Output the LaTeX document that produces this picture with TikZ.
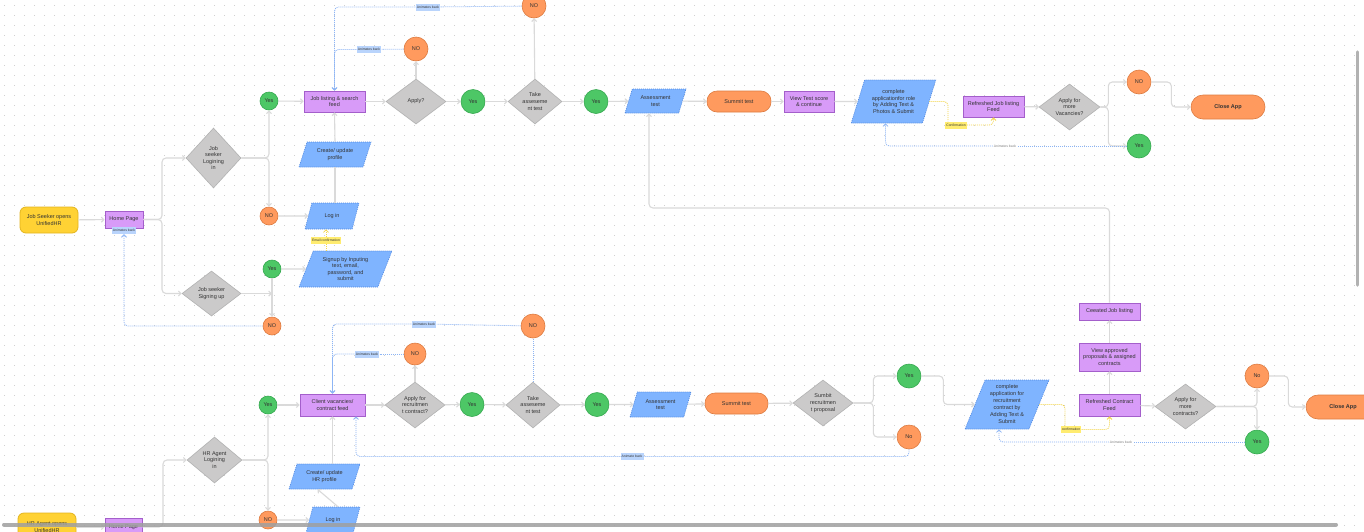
\documentclass[tikz,border=0pt]{standalone}
\usepackage{fontspec}
\setmainfont{Liberation Sans}
\usetikzlibrary{shapes.geometric,arrows.meta,calc}
\definecolor{ylw}{HTML}{FFD234}
\definecolor{ylwd}{HTML}{E3B51E}
\definecolor{pur}{HTML}{D89BF8}
\definecolor{purd}{HTML}{A45FCB}
\definecolor{gry}{HTML}{CBCACA}
\definecolor{gryd}{HTML}{B2B2B2}
\definecolor{grn}{HTML}{4DC766}
\definecolor{grnd}{HTML}{35A84F}
\definecolor{org}{HTML}{FF9A5E}
\definecolor{orgd}{HTML}{DD7B40}
\definecolor{blu}{HTML}{7FB4FF}
\definecolor{blud}{HTML}{4E86E0}
\definecolor{lbl}{HTML}{B9D4FC}
\definecolor{lny}{HTML}{DADADA}
\definecolor{dotb}{HTML}{8DB5F5}
\definecolor{doty}{HTML}{F4D64A}
\definecolor{cnf}{HTML}{FFEC70}
\definecolor{txt}{HTML}{333333}
\definecolor{gridc}{HTML}{CFCFCF}
\tikzset{
  nbase/.style={font=\fontsize{5.5}{6.6}\selectfont, text=txt, align=center, inner sep=1pt},
  startbox/.style={nbase, rounded corners=6, fill=ylw, draw=ylwd, line width=0.8, minimum width=58, minimum height=26},
  pbox/.style={nbase, fill=pur, draw=purd, line width=0.8},
  dia/.style={nbase, diamond, fill=gry, draw=gryd, line width=0.6, inner sep=0pt, aspect=1},
  yesc/.style={nbase, circle, fill=grn, draw=grnd, line width=0.6, inner sep=0pt},
  noc/.style={nbase, circle, fill=org, draw=orgd, line width=0.6, inner sep=0pt},
  para/.style={nbase, trapezium, trapezium left angle=68, trapezium right angle=112, trapezium stretches=true, fill=blu, draw=blud, dash pattern=on 1pt off 1pt, line width=0.6},
  termbox/.style={nbase, rounded corners=10, fill=org, draw=orgd, line width=0.6},
  lbtag/.style={font=\fontsize{3.4}{4}\selectfont, text=txt, fill=lbl, inner sep=1.2pt, minimum height=7},
  ytag/.style={lbtag, fill=cnf},
  wtag/.style={font=\fontsize{3.4}{4}\selectfont, text=gray, fill=white, inner sep=0.8pt},
  con/.style={draw=lny, line width=1.1, rounded corners=4, -{Straight Barb[length=2.5pt,width=5pt]}},
  dcon/.style={draw=dotb, line width=0.8, dash pattern=on 1pt off 1pt, rounded corners=4, -{Straight Barb[length=2.5pt,width=5pt]}},
  ycon/.style={draw=doty, line width=0.8, dash pattern=on 1pt off 1pt, rounded corners=4, -{Straight Barb[length=2.5pt,width=5pt]}},
}
\begin{document}
\begin{tikzpicture}[x=1pt,y=-1pt]
\useasboundingbox (0,0) rectangle (1364,531);
\fill[white] (0,0) rectangle (1364,531);
% dotted grid
\foreach \r in {5,15,...,525} {
  \draw[gridc, line width=1, dash pattern=on 1pt off 9pt] (4,\r) -- (1364,\r);
}
% ---------- Job seeker flow ----------
\node[startbox] (js) at (49,220) {Job Seeker opens\\UnifiedHR};
\node[pbox, minimum width=38, minimum height=17] (hp) at (124,219.5) {Home Page};
\node[lbtag] (hpab) at (124,230.5) {Animates back};
\node[dia, minimum width=55, minimum height=60] (ld) at (213.5,158) {Job\\seeker\\Logining\\in};
\node[dia, minimum width=59, minimum height=45] (sd) at (211.5,293.5) {Job seeker\\Signing up};
\node[yesc, minimum size=18] (ly) at (269,101) {Yes};
\node[noc, minimum size=18] (ln) at (269,216) {NO};
\node[yesc, minimum size=18] (sy) at (272,269) {Yes};
\node[noc, minimum size=18] (sn) at (272,326) {NO};
\node[para, minimum width=54, minimum height=26] (li) at (332,216) {Log in};
\node[para, minimum width=72, minimum height=25] (cu) at (335,154.5) {Create/ update\\profile};
\node[para, minimum width=93, minimum height=36] (su) at (345.5,269) {Signup by Inputing\\text, email,\\password, and\\submit};
\node[ytag] (ec) at (326,240.5) {Email confirmation};
\node[pbox, minimum width=61, minimum height=21] (jl) at (334.5,101.5) {Job listing \& search\\feed};
\node[dia, minimum width=60, minimum height=45] (ap) at (416,101.5) {Apply?};
\node[yesc, minimum size=24] (y1) at (473,101.5) {Yes};
\node[dia, minimum width=54, minimum height=45] (tk) at (535,101.5) {Take\\asseseme\\nt test};
\node[yesc, minimum size=24] (y2) at (596,101.5) {Yes};
\node[noc, minimum size=24] (n1) at (416,49) {NO};
\node[noc, minimum size=24] (n2) at (534,6) {NO};
\node[lbtag] (ab1) at (369,49.5) {Animates back};
\node[lbtag] (ab2) at (428,7) {Animates back};
\node[para, minimum width=61, minimum height=24] (at) at (655.5,101) {Assessment\\test};
\node[termbox, minimum width=64, minimum height=21] (st) at (739,101.5) {Summit test};
\node[pbox, minimum width=50, minimum height=21] (vt) at (809,101.5) {View Test score\\\& continue};
\node[para, minimum width=85, minimum height=43] (ca) at (893.5,101.5) {complete\\applicationfor role\\by Adding Text \&\\Photos \& Submit};
\node[pbox, minimum width=61, minimum height=21] (rf) at (993.5,106.5) {Refreshed Job listing\\Feed};
\node[ytag] (cf1) at (956,125) {Confirmation};
\node[dia, minimum width=61, minimum height=46] (am) at (1069.5,107) {Apply for\\more\\Vacancies?};
\node[noc, minimum size=24] (n3) at (1139,82) {NO};
\node[yesc, minimum size=24] (y3) at (1139,146) {Yes};
\node[termbox, rounded corners=12, minimum width=74, minimum height=24, font=\fontsize{5.5}{6.6}\selectfont\bfseries] (cl1) at (1228,107) {Close App};
\node[wtag] (ab3) at (1005,146) {Animates back};

\draw[con] (js) -- (hp);
\draw[con] (hp.east) -- (162,219.5) |- (ld.west);
\draw[con] (hp.east) -- (162,219.5) |- (sd.west);
\draw[con] (ld.east) -| (ly.south);
\draw[con] (ld.east) -| (ln.north);
\draw[con] (ly) -- (jl);
\draw[con] (ln) -- (li);
\draw[con,-] (li.north -| cu.south) -- (cu.south);
\draw[con] (cu.north) -- (jl.south);
\draw[con] (sy) -- (su);
\draw[con] (sy) -- (sn);
\draw[con] (sd.east) -- (sd.east -| sy);
\draw[ycon,-] (su.north -| ec) -- (ec);
\draw[ycon] (ec) -- (ec |- li.south);
\draw[dcon] (sn.west) -| (hpab.south);
\draw[con] (jl) -- (ap);
\draw[con] (ap) -- (y1);
\draw[con] (y1) -- (tk);
\draw[con] (tk) -- (y2);
\draw[con] (y2) -- (at);
\draw[con] (ap) -- (n1);
\draw[con] (tk) -- (n2);
\draw[dcon,-] (n1) -- (ab1);
\draw[dcon] (ab1.west) -| (jl.north);
\draw[dcon,-] (n2) -- (ab2);
\draw[dcon] (ab2.west) -| (jl.north);
\draw[con] (at) -- (st);
\draw[con] (st) -- (vt);
\draw[con] (vt) -- (ca);
\draw[ycon,-] (ca.east) -| ($(cf1.north)+(-8,0)$);
\draw[ycon] (cf1.east) -| (rf.south);
\draw[con] (rf) -- (am);
\draw[con] (am.east) -- ++(8,0) |- (n3.west);
\draw[con] (am.east) -- ++(8,0) |- (y3.west);
\draw[con] (n3.east) -- ++(20,0) |- (cl1.west);
\draw[dcon,-] (y3.west) -- (ab3.east);
\draw[dcon] (ab3.west) -| ($(ca.south)+(-8,0)$);

% ---------- HR agent flow ----------
\node[yesc, minimum size=18] (hy) at (268,405) {Yes};
\node[pbox, minimum width=65, minimum height=22] (cv) at (332.5,405) {Client vacancies/\\contract feed};
\node[dia, minimum width=55, minimum height=46] (hd) at (214.5,460) {HR Agent\\Logining\\in};
\node[noc, minimum size=18] (hn) at (268,520) {NO};
\node[para, minimum width=71, minimum height=25] (hc) at (324.5,476.5) {Create/ update\\HR profile};
\node[para, minimum width=54, minimum height=26] (hl) at (333,520) {Log in};
\node[startbox, minimum height=28] (hs) at (47,527) {HR Agent opens\\UnifiedHR};
\node[pbox, minimum width=37, minimum height=17] (hh) at (123.5,527) {Home Page};
\node[dia, minimum width=60, minimum height=46] (ar) at (415,405) {Apply for\\recruitmen\\t contract?};
\node[noc, minimum size=22] (bn1) at (415,354) {NO};
\node[yesc, minimum size=24] (by1) at (472,404.5) {Yes};
\node[dia, minimum width=54, minimum height=46] (bt) at (533,405) {Take\\asseseme\\nt test};
\node[noc, minimum size=24] (bn2) at (533,326) {NO};
\node[yesc, minimum size=24] (by2) at (597,404.5) {Yes};
\node[para, minimum width=61, minimum height=25] (bat) at (660.5,404.5) {Assessment\\test};
\node[termbox, minimum width=63, minimum height=21] (bst) at (736.5,403.5) {Summit test};
\node[dia, minimum width=60, minimum height=46] (sp) at (823,403) {Sumbit\\recruitmen\\t proposal};
\node[yesc, minimum size=24] (by3) at (909,376) {Yes};
\node[noc, minimum size=24] (bn3) at (909,437) {No};
\node[para, minimum width=84, minimum height=49, font=\fontsize{5.5}{7}\selectfont] (bca) at (1007,404.5) {complete\\application for\\recruitment\\contract by\\Adding Text \&\\Submit};
\node[pbox, minimum width=61, minimum height=22] (rcf) at (1109.5,405) {Refreshed Contract\\Feed};
\node[pbox, minimum width=61, minimum height=28] (vap) at (1109.5,357) {View approved\\proposals \& assigned\\contracts};
\node[pbox, minimum width=61, minimum height=17] (cjl) at (1109.5,311.5) {Ceeated Job listing};
\node[ytag] (cf2) at (1071,429.5) {confirmation};
\node[dia, minimum width=61, minimum height=45] (amc) at (1185.5,406.5) {Apply for\\more\\contracts?};
\node[noc, minimum size=24] (bn4) at (1257,376) {No};
\node[yesc, minimum size=24] (by4) at (1257,442) {Yes};
\node[termbox, rounded corners=12, minimum width=74, minimum height=24, font=\fontsize{5.5}{6.6}\selectfont\bfseries] (cl2) at (1343,407) {Close App};
\node[lbtag] (bab1) at (424,324) {Animates back};
\node[lbtag] (bab2) at (367,354) {Animates back};
\node[lbtag] (bab3) at (632,456.5) {Animate back};
\node[wtag] (bab4) at (1121,442) {Animates back};

\coordinate (lc) at (649,208);
\draw[con] (cjl.north) |- (lc) -- (lc |- at.south);

\draw[con] (hs) -- (hh);
\draw[con] (hh.east) -- (163,527) |- (hd.west);
\draw[con] (hd.east) -| (hy.south);
\draw[con] (hd.east) -| (hn.north);
\draw[con] (hy) -- (cv);
\draw[con] (hn) -- (hl);
\draw[con] ($(hl.north)+(5,0)$) -- ($(hc.south)+(-7,0)$);
\draw[con] (hc.north -| cv) -- (cv.south);
\draw[con] (cv) -- (ar);
\draw[con] (ar) -- (by1);
\draw[con] (by1) -- (bt);
\draw[con] (bt) -- (by2);
\draw[con] (by2) -- (bat);
\draw[con] (bat) -- (bst);
\draw[con] (bst) -- (sp);
\draw[con] (ar) -- (bn1);
\draw[dcon,-] (bt) -- (bn2);
\draw[dcon,-] (bn1) -- (bab2);
\draw[dcon] (bab2.west) -| (cv.north);
\draw[dcon,-] (bn2) -- (bab1);
\draw[dcon] (bab1.west) -| (cv.north);
\draw[con] (sp.east) -- ++(20,0) |- (by3.west);
\draw[con] (sp.east) -- ++(20,0) |- (bn3.west);
\draw[con] (by3.east) -- ++(22,0) |- (bca.west);
\draw[dcon,-] (bn3.south) |- (bab3.east);
\draw[dcon] (bab3.west) -| ($(cv.south)+(23.5,0)$);
\draw[ycon,-] (bca.east) -| ($(cf2.north)+(-6,0)$);
\draw[ycon] (cf2.east) -| (rcf.south);
\draw[con] (rcf) -- (vap);
\draw[con] (vap) -- (cjl);
\draw[con] (rcf) -- (amc);
\draw[con] (amc.east) -| (bn4.south);
\draw[con] (amc.east) -| (by4.north);
\draw[con] (bn4.east) -- ++(19,0) |- (cl2.west);
\draw[dcon,-] (by4.west) -- (bab4.east);
\draw[dcon] (bab4.west) -| ($(bca.south)+(-8,0)$);

% scrollbars
\draw[line width=4, line cap=round, color=gray!75, opacity=0.85] (4,524.5) -- (1336,524.5);
\draw[line width=3.5, line cap=round, color=gray!60] (1357.5,52) -- (1357.5,285);
\end{tikzpicture}
\end{document}
